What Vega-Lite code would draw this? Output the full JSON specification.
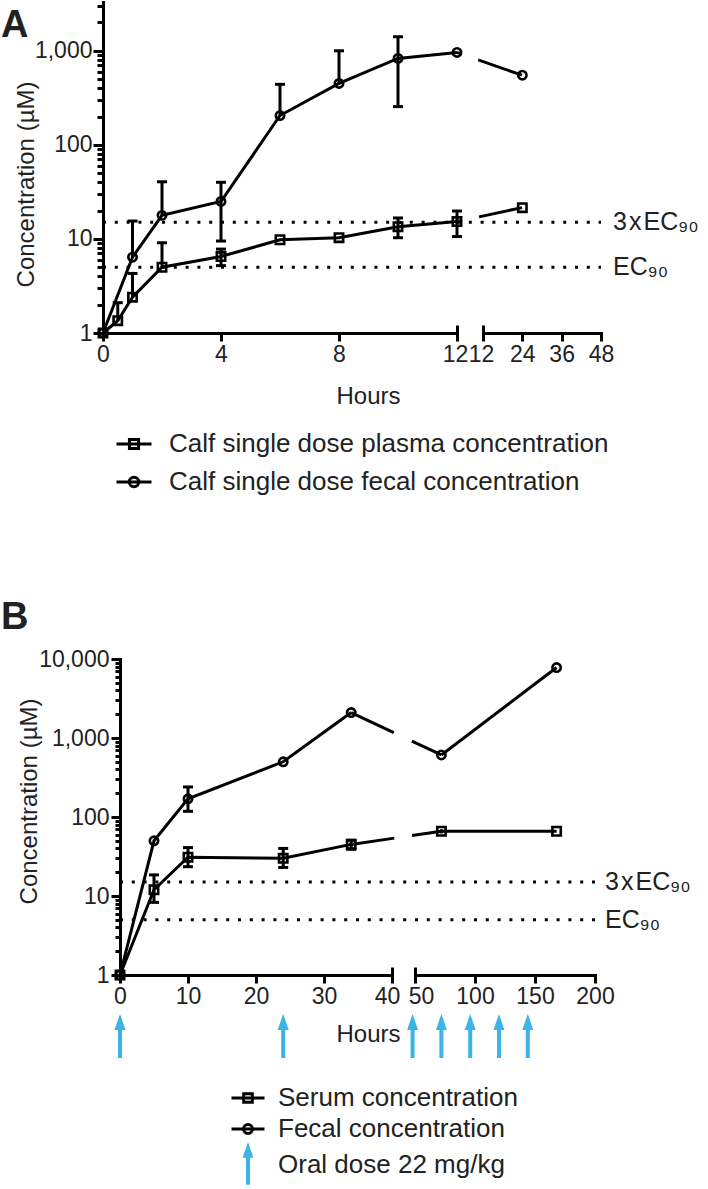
{
  "$schema": "https://vega.github.io/schema/vega-lite/v6.json",
  "padding": 0,
  "background": "white",
  "spacing": 0,
  "bounds": "flush",
  "config": {
    "view": {"stroke": null},
    "font": "Liberation Sans",
    "axis": {
      "labelFont": "Liberation Sans", "titleFont": "Liberation Sans",
      "labelColor": "#222", "titleColor": "#222",
      "domainColor": "#000", "tickColor": "#000",
      "domainWidth": 3, "tickWidth": 3, "domainCap": "square",
      "grid": false, "labelFontSize": 23, "titleFontSize": 24,
      "titleFontWeight": "normal", "labelFlush": false, "labelOverlap": false
    },
    "legend": {
      "labelFont": "Liberation Sans", "labelFontSize": 26, "labelColor": "#222",
      "labelLimit": 700, "padding": 0, "title": null
    }
  },
  "datasets": {
    "A": [
      {"series": "Calf single dose plasma concentration", "hours": 0, "conc": 1},
      {"series": "Calf single dose plasma concentration", "hours": 0.5, "conc": 1.35, "hi": 2.1},
      {"series": "Calf single dose plasma concentration", "hours": 1, "conc": 2.4, "hi": 4.3},
      {"series": "Calf single dose plasma concentration", "hours": 2, "conc": 5.0, "hi": 9.1},
      {"series": "Calf single dose plasma concentration", "hours": 4, "conc": 6.5, "hi": 7.8, "lo": 5.2},
      {"series": "Calf single dose plasma concentration", "hours": 6, "conc": 9.8},
      {"series": "Calf single dose plasma concentration", "hours": 8, "conc": 10.3},
      {"series": "Calf single dose plasma concentration", "hours": 10, "conc": 13.5, "hi": 16.7, "lo": 10.3},
      {"series": "Calf single dose plasma concentration", "hours": 12, "conc": 15.3, "hi": 19.8, "lo": 10.6},
      {"series": "Calf single dose plasma concentration", "hours": 24, "conc": 21.5},
      {"series": "Calf single dose fecal concentration", "hours": 0, "conc": 1},
      {"series": "Calf single dose fecal concentration", "hours": 1, "conc": 6.4, "hi": 15.5},
      {"series": "Calf single dose fecal concentration", "hours": 2, "conc": 17.8, "hi": 40.5},
      {"series": "Calf single dose fecal concentration", "hours": 4, "conc": 25, "hi": 40, "lo": 9.5},
      {"series": "Calf single dose fecal concentration", "hours": 6, "conc": 205, "hi": 440},
      {"series": "Calf single dose fecal concentration", "hours": 8, "conc": 450, "hi": 1000},
      {"series": "Calf single dose fecal concentration", "hours": 10, "conc": 830, "hi": 1410, "lo": 255},
      {"series": "Calf single dose fecal concentration", "hours": 12, "conc": 960},
      {"series": "Calf single dose fecal concentration", "hours": 24, "conc": 550}
    ],
    "B": [
      {"series": "Serum concentration", "hours": 0, "conc": 1},
      {"series": "Serum concentration", "hours": 5, "conc": 12, "hi": 18.5, "lo": 8.3},
      {"series": "Serum concentration", "hours": 10, "conc": 31, "hi": 41, "lo": 23.5},
      {"series": "Serum concentration", "hours": 24, "conc": 30, "hi": 40, "lo": 23},
      {"series": "Serum concentration", "hours": 34, "conc": 45, "hi": 51, "lo": 39},
      {"series": "Serum concentration", "hours": 72, "conc": 66, "hi": 70, "lo": 62},
      {"series": "Serum concentration", "hours": 168, "conc": 66},
      {"series": "Fecal concentration", "hours": 0, "conc": 1},
      {"series": "Fecal concentration", "hours": 5, "conc": 50},
      {"series": "Fecal concentration", "hours": 10, "conc": 170, "hi": 240, "lo": 118},
      {"series": "Fecal concentration", "hours": 24, "conc": 500},
      {"series": "Fecal concentration", "hours": 34, "conc": 2100},
      {"series": "Fecal concentration", "hours": 72, "conc": 610},
      {"series": "Fecal concentration", "hours": 168, "conc": 7800}
    ],
    "doses": [
      {"series": "Oral dose 22 mg/kg", "hours": 0},
      {"series": "Oral dose 22 mg/kg", "hours": 24},
      {"series": "Oral dose 22 mg/kg", "hours": 48},
      {"series": "Oral dose 22 mg/kg", "hours": 72},
      {"series": "Oral dose 22 mg/kg", "hours": 96},
      {"series": "Oral dose 22 mg/kg", "hours": 120},
      {"series": "Oral dose 22 mg/kg", "hours": 144}
    ],
    "thresholds": [
      {"level": 15, "label": "3\u200ax\u200aEC\u2089\u2080"},
      {"level": 5, "label": "EC\u2089\u2080"}
    ]
  },
  "vconcat": [
    {
      "width": 708, "height": 560,
      "title": {"text": "A", "anchor": "start", "frame": "group", "offset": -45, "fontSize": 38, "fontWeight": "bold", "color": "#222", "dx": 1},
      "resolve": {"scale": {"x": "independent", "y": "independent", "shape": "independent"}},
      "layer": [
        {
          "layer": [
            {
              "data": {"name": "A"},
              "transform": [{"filter": "datum.hours <= 12"}],
              "mark": {"type": "line", "color": "#000", "strokeWidth": 3},
              "encoding": {
                "x": {"field": "hours", "type": "quantitative", "scale": {"domain": [0, 12, 24, 48], "range": [103, 457, 522, 601], "nice": false, "zero": false},
                  "axis": {"orient": "bottom", "offset": -227, "values": [12], "tickSize": -8, "labels": false, "domain": false, "title": null}},
                "y": {"field": "conc", "type": "quantitative", "scale": {"type": "log", "domain": [1, 3300], "range": [333, 2], "nice": false}, "axis": null},
                "detail": {"field": "series"}
              }
            },
            {
              "data": {"name": "A"},
              "transform": [{"filter": "datum.hours >= 12"}],
              "mark": {"type": "line", "color": "#000", "strokeWidth": 3, "strokeDash": [5, 17.5, 300]},
              "encoding": {
                "x": {"field": "hours", "type": "quantitative", "scale": {"domain": [0, 12, 24, 48], "range": [103, 457, 522, 601], "nice": false, "zero": false}},
                "y": {"field": "conc", "type": "quantitative", "scale": {"type": "log", "domain": [1, 3300], "range": [333, 2], "nice": false}, "axis": null},
                "detail": {"field": "series"}
              }
            },
            {
              "data": {"name": "thresholds"},
              "mark": {"type": "rule", "color": "#000", "strokeWidth": 3, "strokeDash": [3, 8.8]},
              "encoding": {
                "x": {"datum": 0, "type": "quantitative", "scale": {"domain": [0, 12, 24, 48], "range": [103, 457, 522, 601], "nice": false, "zero": false}},
                "x2": {"datum": 48},
                "y": {"field": "level", "type": "quantitative", "scale": {"type": "log", "domain": [1, 3300], "range": [333, 2], "nice": false}, "axis": null}
              }
            }
          ]
        },
        {
          "data": {"name": "thresholds"},
          "mark": {"type": "text", "align": "left", "baseline": "middle", "dx": 12, "fontSize": 25, "color": "#222", "font": "Liberation Sans"},
          "encoding": {
            "x": {"datum": 48, "type": "quantitative", "scale": {"domain": [12, 48], "range": [483, 601], "nice": false, "zero": false},
              "axis": {"orient": "bottom", "offset": -227, "values": [12], "tickSize": -8, "labels": false, "domain": false, "title": null}},
            "y": {"field": "level", "type": "quantitative", "scale": {"type": "log", "domain": [1, 3300], "range": [333, 2], "nice": false}, "axis": null},
            "text": {"field": "label"}
          }
        },
        {
          "data": {"name": "A"},
          "transform": [{"filter": "datum.hours <= 12"}],
          "encoding": {
            "x": {"field": "hours", "type": "quantitative",
              "scale": {"domain": [0, 12], "range": [103, 457], "nice": false, "zero": false},
              "axis": {"orient": "bottom", "offset": -227, "values": [0, 4, 8, 12], "tickSize": 8, "labelPadding": 2, "labelOffset": {"condition": {"test": "datum.value == 12", "value": -2}, "value": 0}, "title": "Hours", "titleX": 368, "titleY": 70, "titleBaseline": "alphabetic", "titleAlign": "center"}},
            "y": {"field": "conc", "type": "quantitative",
              "scale": {"type": "log", "domain": [1, 3300], "range": [333, 2], "nice": false},
              "axis": {"orient": "left", "offset": -103,
                "tickSize": {"condition": {"test": "indexof([1,10,100,1000,10000], datum.value) >= 0", "value": 10}, "value": 6},
                "labelFontSize": {"condition": {"test": "indexof([1,10,100,1000,10000], datum.value) >= 0", "value": 23}, "value": 0},
                "labelExpr": "indexof([1,10,100,1000,10000], datum.value) >= 0 ? format(datum.value, ',') : ''",
                "labelPadding": 1, "title": "Concentration (µM)", "titleX": -77, "titleY": 184, "titleAngle": -90, "titleBaseline": "middle", "titleAlign": "center"}}
          },
          "layer": [
            {"transform": [{"filter": "isValid(datum.hi)"}], "mark": {"type": "rule", "color": "#000", "strokeWidth": 3}, "encoding": {"y2": {"field": "hi"}}},
            {"transform": [{"filter": "isValid(datum.lo)"}], "mark": {"type": "rule", "color": "#000", "strokeWidth": 3}, "encoding": {"y2": {"field": "lo"}}},
            {"transform": [{"filter": "isValid(datum.hi)"}], "mark": {"type": "tick", "orient": "horizontal", "color": "#000", "size": 10, "thickness": 3, "opacity": 1},
              "encoding": {"y": {"field": "hi", "type": "quantitative", "scale": {"type": "log", "domain": [1, 3300], "range": [333, 2], "nice": false}}}},
            {"transform": [{"filter": "isValid(datum.lo)"}], "mark": {"type": "tick", "orient": "horizontal", "color": "#000", "size": 10, "thickness": 3, "opacity": 1},
              "encoding": {"y": {"field": "lo", "type": "quantitative", "scale": {"type": "log", "domain": [1, 3300], "range": [333, 2], "nice": false}}}},
            {"mark": {"type": "point", "filled": false, "color": "#000", "strokeWidth": 2.6, "size": 70, "opacity": 1},
              "encoding": {"shape": {"condition": {"test": "datum.series === 'Calf single dose plasma concentration'", "value": "square"}, "value": "circle"}}},
            {"mark": {"type": "point", "filled": false, "color": "#000", "strokeWidth": 3, "opacity": 0},
              "encoding": {"shape": {"field": "series", "type": "nominal",
                "scale": {"domain": ["Calf single dose plasma concentration", "Calf single dose fecal concentration"], "range": ["M-1,0H1M-0.26,-0.26H0.26V0.26H-0.26Z", "M-1,0H1M0.27,0A0.27,0.27,0,1,1,-0.27,0A0.27,0.27,0,1,1,0.27,0"]},
                "legend": {"orient": "none", "legendX": 115, "legendY": 425, "symbolSize": 1225, "labelOffset": 16, "rowPadding": 6,
                  "symbolOpacity": 1, "symbolStrokeWidth": 3, "symbolStrokeColor": "#000", "symbolFillColor": "transparent"}}}}
          ]
        },
        {
          "data": {"name": "A"},
          "transform": [{"filter": "datum.hours > 12"}],
          "mark": {"type": "point", "filled": false, "color": "#000", "strokeWidth": 2.6, "size": 70, "opacity": 1},
          "encoding": {
            "x": {"field": "hours", "type": "quantitative",
              "scale": {"domain": [12, 48], "range": [483, 601], "nice": false, "zero": false},
              "axis": {"orient": "bottom", "offset": -227, "values": [12, 24, 36, 48], "tickSize": 8, "labelPadding": 2, "labelOffset": {"condition": {"test": "datum.value == 12", "value": -2}, "value": 0}, "title": null}},
            "y": {"field": "conc", "type": "quantitative", "scale": {"type": "log", "domain": [1, 3300], "range": [333, 2], "nice": false}, "axis": null},
            "shape": {"condition": {"test": "datum.series === 'Calf single dose plasma concentration'", "value": "square"}, "value": "circle"}
          }
        }
      ]
    },
    {
      "width": 708, "height": 452,
      "title": {"text": "B", "anchor": "start", "frame": "group", "offset": -77, "fontSize": 38, "fontWeight": "bold", "color": "#222", "dx": 1},
      "resolve": {"scale": {"x": "independent", "y": "independent", "strokeDash": "independent"}},
      "layer": [
        {
          "layer": [
            {
              "data": {"name": "B"},
              "transform": [{"filter": "datum.hours <= 34"}],
              "mark": {"type": "line", "color": "#000", "strokeWidth": 3},
              "encoding": {
                "x": {"field": "hours", "type": "quantitative", "scale": {"domain": [0, 40, 48, 200], "range": [120, 392, 412.6, 595], "nice": false, "zero": false},
                  "axis": {"orient": "bottom", "offset": -37, "values": [40, 50], "tickSize": -8, "labels": false, "domain": false, "title": null}},
                "y": {"field": "conc", "type": "quantitative", "scale": {"type": "log", "domain": [1, 10000], "range": [415, 99], "nice": false}, "axis": null},
                "detail": {"field": "series"}
              }
            },
            {
              "data": {"name": "B"},
              "transform": [{"filter": "datum.hours >= 34 && datum.hours <= 72"}],
              "mark": {"type": "line", "color": "#000", "strokeWidth": 3},
              "encoding": {
                "x": {"field": "hours", "type": "quantitative", "scale": {"domain": [0, 40, 48, 200], "range": [120, 392, 412.6, 595], "nice": false, "zero": false}},
                "y": {"field": "conc", "type": "quantitative", "scale": {"type": "log", "domain": [1, 10000], "range": [415, 99], "nice": false}, "axis": null},
                "strokeDash": {"field": "series", "type": "nominal", "scale": {"domain": ["Serum concentration", "Fecal concentration"], "range": [[43.5, 18, 300], [47, 20, 300]]}, "legend": null}
              }
            },
            {
              "data": {"name": "B"},
              "transform": [{"filter": "datum.hours >= 72"}],
              "mark": {"type": "line", "color": "#000", "strokeWidth": 3},
              "encoding": {
                "x": {"field": "hours", "type": "quantitative", "scale": {"domain": [0, 40, 48, 200], "range": [120, 392, 412.6, 595], "nice": false, "zero": false}},
                "y": {"field": "conc", "type": "quantitative", "scale": {"type": "log", "domain": [1, 10000], "range": [415, 99], "nice": false}, "axis": null},
                "detail": {"field": "series"}
              }
            },
            {
              "data": {"name": "thresholds"},
              "mark": {"type": "rule", "color": "#000", "strokeWidth": 3, "strokeDash": [3, 8.8]},
              "encoding": {
                "x": {"datum": 0, "type": "quantitative", "scale": {"domain": [0, 40, 48, 200], "range": [120, 392, 412.6, 595], "nice": false, "zero": false}},
                "x2": {"datum": 200},
                "y": {"field": "level", "type": "quantitative", "scale": {"type": "log", "domain": [1, 10000], "range": [415, 99], "nice": false}, "axis": null}
              }
            },
            {
              "data": {"name": "thresholds"},
              "mark": {"type": "text", "align": "left", "baseline": "middle", "dx": 10, "fontSize": 25, "color": "#222", "font": "Liberation Sans"},
              "encoding": {
                "x": {"datum": 200, "type": "quantitative", "scale": {"domain": [0, 40, 48, 200], "range": [120, 392, 412.6, 595], "nice": false, "zero": false}},
                "y": {"field": "level", "type": "quantitative", "scale": {"type": "log", "domain": [1, 10000], "range": [415, 99], "nice": false}, "axis": null},
                "text": {"field": "label"}
              }
            }
          ]
        },
        {
          "data": {"name": "B"},
          "transform": [{"filter": "datum.hours <= 40"}],
          "encoding": {
            "x": {"field": "hours", "type": "quantitative",
              "scale": {"domain": [0, 40], "range": [120, 392], "nice": false, "zero": false},
              "axis": {"orient": "bottom", "offset": -37, "values": [0, 10, 20, 30, 40], "tickSize": 8, "labelPadding": 2, "labelOffset": {"condition": {"test": "datum.value == 40", "value": -5}, "value": 0}, "title": "Hours", "titleX": 368, "titleY": 66, "titleBaseline": "alphabetic", "titleAlign": "center"}},
            "y": {"field": "conc", "type": "quantitative",
              "scale": {"type": "log", "domain": [1, 10000], "range": [415, 99], "nice": false},
              "axis": {"orient": "left", "offset": -120,
                "tickSize": {"condition": {"test": "indexof([1,10,100,1000,10000], datum.value) >= 0", "value": 9}, "value": 5},
                "labelFontSize": {"condition": {"test": "indexof([1,10,100,1000,10000], datum.value) >= 0", "value": 23}, "value": 0},
                "labelExpr": "indexof([1,10,100,1000,10000], datum.value) >= 0 ? format(datum.value, ',') : ''",
                "labelPadding": 2, "title": "Concentration (µM)", "titleX": -91, "titleY": 241, "titleAngle": -90, "titleBaseline": "middle", "titleAlign": "center"}}
          },
          "layer": [
            {"transform": [{"filter": "isValid(datum.hi)"}], "mark": {"type": "rule", "color": "#000", "strokeWidth": 3}, "encoding": {"y2": {"field": "hi"}}},
            {"transform": [{"filter": "isValid(datum.lo)"}], "mark": {"type": "rule", "color": "#000", "strokeWidth": 3}, "encoding": {"y2": {"field": "lo"}}},
            {"transform": [{"filter": "isValid(datum.hi)"}], "mark": {"type": "tick", "orient": "horizontal", "color": "#000", "size": 10, "thickness": 3, "opacity": 1},
              "encoding": {"y": {"field": "hi", "type": "quantitative", "scale": {"type": "log", "domain": [1, 10000], "range": [415, 99], "nice": false}}}},
            {"transform": [{"filter": "isValid(datum.lo)"}], "mark": {"type": "tick", "orient": "horizontal", "color": "#000", "size": 10, "thickness": 3, "opacity": 1},
              "encoding": {"y": {"field": "lo", "type": "quantitative", "scale": {"type": "log", "domain": [1, 10000], "range": [415, 99], "nice": false}}}},
            {"mark": {"type": "point", "filled": false, "color": "#000", "strokeWidth": 2.6, "size": 70, "opacity": 1},
              "encoding": {"shape": {"condition": {"test": "datum.series === 'Serum concentration'", "value": "square"}, "value": "circle"}}}
          ]
        },
        {
          "data": {"name": "B"},
          "transform": [{"filter": "datum.hours >= 50"}],
          "encoding": {
            "x": {"field": "hours", "type": "quantitative",
              "scale": {"domain": [50, 200], "range": [415, 595], "nice": false, "zero": false},
              "axis": {"orient": "bottom", "offset": -37, "values": [50, 100, 150, 200], "tickSize": 8, "labelPadding": 2, "labelOffset": {"condition": {"test": "datum.value == 50", "value": 6}, "value": 0}, "title": null}},
            "y": {"field": "conc", "type": "quantitative", "scale": {"type": "log", "domain": [1, 10000], "range": [415, 99], "nice": false}, "axis": null}
          },
          "layer": [
            {"transform": [{"filter": "isValid(datum.hi)"}], "mark": {"type": "rule", "color": "#000", "strokeWidth": 3}, "encoding": {"y2": {"field": "hi"}}},
            {"transform": [{"filter": "isValid(datum.lo)"}], "mark": {"type": "rule", "color": "#000", "strokeWidth": 3}, "encoding": {"y2": {"field": "lo"}}},
            {"mark": {"type": "point", "filled": false, "color": "#000", "strokeWidth": 2.6, "size": 70, "opacity": 1},
              "encoding": {"shape": {"condition": {"test": "datum.series === 'Serum concentration'", "value": "square"}, "value": "circle"}}}
          ]
        }
      ]
    },
    {
      "width": 708, "height": 51,
      "data": {"name": "doses"},
      "mark": {"type": "point", "opacity": 1, "size": 1167, "strokeWidth": 3},
      "encoding": {
        "x": {"field": "hours", "type": "quantitative", "scale": {"domain": [0, 40, 48, 200], "range": [120, 392, 412.6, 595], "nice": false, "zero": false}, "axis": null},
        "shape": {"field": "series", "type": "nominal",
          "scale": {"domain": ["Serum concentration", "Fecal concentration", "Oral dose 22 mg/kg"],
            "range": ["M-1,0H1M-0.26,-0.26H0.26V0.26H-0.26Z", "M-1,0H1M0.27,0A0.27,0.27,0,1,1,-0.27,0A0.27,0.27,0,1,1,0.27,0", "M-0.03,1.11L0.03,1.11L0.03,-0.53L0.2,-0.53L0,-1.11L-0.2,-0.53L-0.03,-0.53Z"]},
          "legend": {"orient": "none", "legendX": 230, "legendY": 1080, "symbolSize": 1089, "labelOffset": 12, "rowPadding": -2, "symbolOpacity": 1, "symbolStrokeWidth": 3}},
        "fill": {"field": "series", "type": "nominal",
          "scale": {"domain": ["Serum concentration", "Fecal concentration", "Oral dose 22 mg/kg"], "range": ["transparent", "transparent", "#3DB4E6"]},
          "legend": {"orient": "none", "legendX": 230, "legendY": 1080, "symbolSize": 1089, "labelOffset": 12, "rowPadding": -2, "symbolOpacity": 1, "symbolStrokeWidth": 3}},
        "stroke": {"field": "series", "type": "nominal",
          "scale": {"domain": ["Serum concentration", "Fecal concentration", "Oral dose 22 mg/kg"], "range": ["#000", "#000", "#3DB4E6"]},
          "legend": {"orient": "none", "legendX": 230, "legendY": 1080, "symbolSize": 1089, "labelOffset": 12, "rowPadding": -2, "symbolOpacity": 1, "symbolStrokeWidth": 3}}
      }
    }
  ]
}
